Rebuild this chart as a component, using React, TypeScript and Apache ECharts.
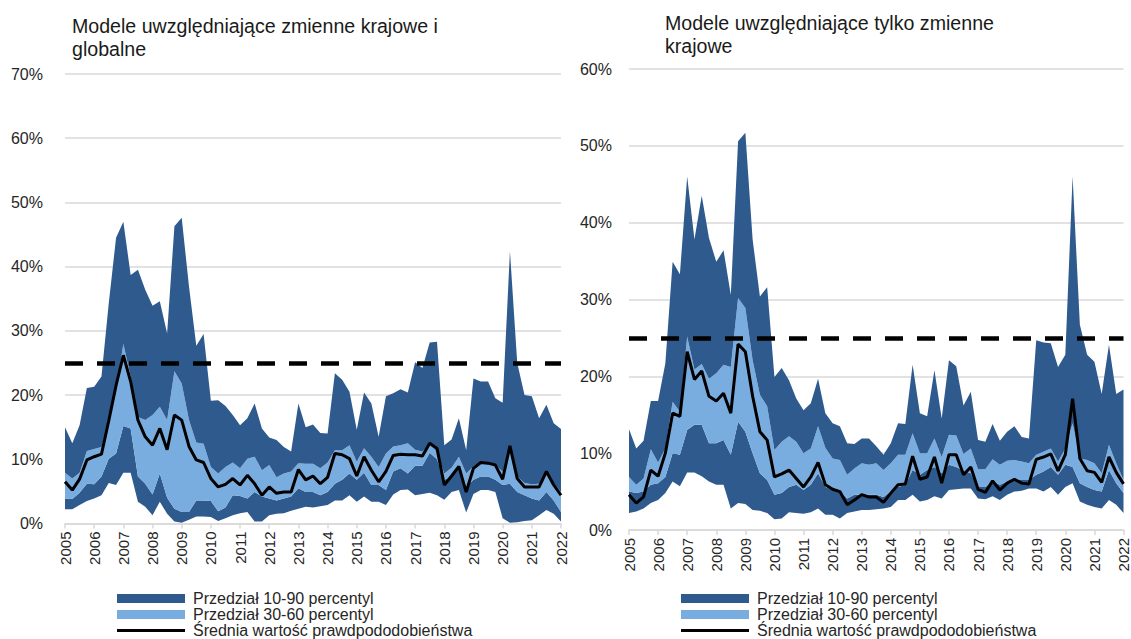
import React, { useEffect, useRef } from "react";
import * as echarts from "echarts";

// ---- data (quarterly, 2005Q1 – 2022Q1), values in % ----
const years = [2005, 2006, 2007, 2008, 2009, 2010, 2011, 2012, 2013, 2014, 2015, 2016, 2017, 2018, 2019, 2020, 2021, 2022];
const categories = years.flatMap((y) => ["Q1", "Q2", "Q3", "Q4"].map((q) => `${y} ${q}`)).slice(0, 69);

// Left panel: domestic and global variables
const leftP10 = [2.2, 2.2, 2.9, 3.5, 3.9, 4.4, 6.3, 6.0, 7.9, 7.9, 3.4, 2.6, 1.3, 3.4, 1.5, 0.3, 0.1, 0.6, 1.1, 1.1, 1.0, 0.4, 0.8, 1.3, 1.6, 1.8, 0.3, 0.3, 1.3, 1.5, 1.6, 2.0, 2.3, 2.6, 2.5, 2.7, 2.9, 3.6, 3.6, 4.4, 3.4, 4.2, 3.4, 3.4, 2.9, 4.5, 5.2, 5.3, 4.4, 4.6, 4.8, 4.4, 3.7, 4.9, 5.2, 1.7, 4.6, 5.2, 5.2, 4.9, 0.8, 0.1, 0.2, 0.4, 0.5, 1.3, 2.1, 1.5, 0.3];
const leftP30 = [3.9, 3.8, 4.8, 6.2, 6.1, 7.3, 10.1, 10.9, 15.2, 14.8, 7.3, 6.2, 4.5, 7.8, 4.0, 2.3, 1.8, 1.8, 3.6, 3.6, 3.5, 1.9, 2.5, 4.4, 4.3, 3.9, 4.9, 4.2, 3.9, 3.6, 3.9, 4.2, 5.5, 4.9, 4.9, 4.4, 4.9, 6.2, 6.8, 7.8, 6.8, 7.9, 6.0, 6.0, 5.2, 8.1, 8.6, 7.8, 9.0, 9.0, 11.0, 10.0, 6.8, 7.3, 8.8, 5.7, 6.8, 7.3, 7.3, 6.8, 6.0, 6.2, 4.9, 4.4, 3.9, 3.6, 4.9, 3.6, 1.8];
const leftP60 = [7.9, 7.0, 7.9, 11.3, 11.6, 11.9, 16.0, 20.5, 28.0, 22.9, 16.6, 16.1, 16.9, 18.2, 16.1, 23.7, 21.8, 16.1, 12.6, 12.4, 8.8, 7.8, 8.8, 9.5, 8.6, 10.1, 10.4, 8.3, 9.1, 7.2, 7.8, 8.1, 9.4, 9.3, 9.3, 8.6, 9.5, 11.4, 11.4, 12.2, 9.6, 11.7, 10.4, 8.8, 10.9, 12.0, 12.2, 12.5, 11.5, 11.2, 12.2, 11.2, 7.8, 8.7, 10.4, 7.8, 8.9, 9.6, 9.5, 9.1, 8.1, 11.0, 7.3, 6.3, 6.1, 6.2, 7.9, 6.3, 4.9];
const leftP90 = [15.0, 12.5, 15.3, 21.1, 21.3, 22.9, 34.3, 44.5, 47.0, 38.7, 39.5, 36.4, 33.9, 34.6, 29.6, 46.3, 47.6, 36.9, 27.7, 29.5, 19.1, 19.2, 18.3, 16.9, 15.3, 16.4, 18.7, 14.8, 13.4, 13.0, 11.9, 11.2, 18.7, 15.0, 15.4, 14.1, 14.0, 23.4, 22.4, 20.5, 14.6, 20.4, 18.7, 13.5, 19.8, 20.3, 20.9, 20.4, 25.1, 24.2, 28.2, 28.3, 12.2, 13.1, 16.4, 11.4, 22.6, 22.1, 22.1, 19.5, 18.8, 42.4, 25.0, 20.0, 19.8, 16.4, 18.5, 15.6, 14.7];
const leftMean = [6.5, 5.2, 6.9, 9.9, 10.4, 10.8, 16.0, 21.5, 26.2, 22.1, 16.1, 13.5, 12.2, 14.8, 11.5, 16.9, 16.1, 12.0, 9.9, 9.5, 7.0, 5.7, 6.1, 7.0, 6.0, 7.5, 6.2, 4.4, 5.7, 4.7, 4.9, 4.9, 8.4, 6.8, 7.4, 6.2, 7.2, 10.9, 10.7, 10.1, 7.4, 10.4, 8.3, 6.5, 8.1, 10.6, 10.8, 10.7, 10.7, 10.5, 12.5, 11.7, 6.0, 7.4, 8.9, 4.9, 8.6, 9.5, 9.4, 9.1, 6.9, 12.1, 7.0, 5.7, 5.7, 5.7, 8.1, 6.0, 4.4];

// Right panel: domestic variables only
const rightP10 = [2.2, 2.4, 2.8, 3.5, 3.9, 4.8, 6.3, 5.7, 7.5, 7.5, 7.0, 6.3, 5.9, 5.9, 2.8, 3.5, 3.4, 2.6, 2.5, 2.2, 1.4, 1.5, 2.3, 2.2, 2.1, 2.3, 2.8, 2.0, 2.0, 1.5, 2.2, 2.4, 2.6, 2.6, 2.7, 2.8, 3.0, 3.9, 3.9, 4.6, 3.7, 3.9, 4.4, 4.1, 5.2, 5.3, 5.4, 5.4, 4.1, 4.0, 4.4, 3.9, 4.6, 5.0, 5.1, 5.4, 5.4, 5.0, 5.6, 4.6, 5.6, 6.1, 3.7, 3.3, 3.0, 2.8, 3.9, 3.3, 2.2];
const rightP30 = [5.0, 4.8, 5.0, 5.9, 6.1, 6.9, 10.0, 9.8, 13.0, 13.7, 13.7, 11.3, 11.3, 11.7, 9.8, 14.1, 12.8, 10.0, 7.4, 6.5, 4.6, 4.8, 5.6, 5.9, 5.2, 5.9, 7.4, 5.6, 5.2, 5.0, 4.1, 4.6, 4.6, 4.6, 4.6, 4.3, 5.0, 5.6, 5.9, 7.8, 7.2, 7.8, 8.2, 7.4, 8.5, 8.2, 7.7, 7.4, 5.6, 5.6, 6.3, 5.9, 6.3, 6.5, 6.5, 6.5, 7.2, 7.6, 8.2, 7.2, 8.5, 8.2, 6.1, 5.6, 5.2, 5.0, 7.8, 6.1, 4.8];
const rightP60 = [6.9, 5.9, 6.7, 10.5, 8.8, 10.6, 16.7, 15.4, 25.2, 20.9, 21.6, 19.7, 20.4, 21.5, 21.2, 30.2, 28.9, 22.1, 17.6, 16.1, 10.4, 11.5, 12.2, 11.5, 10.0, 10.6, 13.5, 10.7, 9.3, 9.1, 7.2, 8.0, 8.7, 8.5, 8.7, 7.8, 8.7, 9.8, 9.8, 12.6, 10.0, 10.0, 11.9, 9.5, 12.4, 12.3, 9.9, 10.6, 7.9, 7.9, 9.2, 8.5, 9.0, 9.1, 8.9, 8.7, 9.8, 10.2, 10.6, 8.9, 10.6, 13.9, 9.3, 9.1, 8.7, 7.4, 11.1, 8.7, 6.5];
const rightP90 = [13.1, 10.6, 11.6, 16.8, 16.8, 21.7, 34.9, 33.3, 46.0, 37.8, 43.5, 38.0, 34.9, 36.4, 30.6, 50.6, 51.7, 37.8, 30.4, 31.6, 19.9, 21.1, 19.5, 17.1, 15.6, 16.5, 19.7, 15.2, 13.9, 13.5, 11.3, 11.2, 11.9, 11.9, 10.9, 9.8, 11.3, 13.9, 13.8, 21.5, 15.2, 14.8, 20.8, 14.5, 22.1, 21.3, 16.2, 18.0, 11.7, 11.5, 13.8, 11.6, 12.8, 13.5, 12.1, 11.9, 24.7, 24.4, 24.3, 21.2, 22.8, 46.0, 26.7, 22.8, 21.9, 17.7, 24.1, 17.7, 18.3];
const rightMean = [4.6, 3.5, 4.3, 7.8, 7.0, 10.0, 15.2, 14.8, 23.2, 19.6, 20.7, 17.4, 16.8, 17.8, 15.2, 24.2, 23.2, 17.4, 12.8, 11.7, 6.9, 7.3, 7.8, 6.7, 5.6, 6.9, 8.8, 5.9, 5.3, 5.0, 3.3, 3.9, 4.6, 4.3, 4.3, 3.6, 4.8, 5.9, 6.0, 9.6, 6.6, 6.9, 9.5, 6.1, 9.8, 9.8, 7.2, 8.2, 5.3, 4.9, 6.4, 5.2, 6.1, 6.6, 6.1, 6.0, 9.2, 9.5, 9.9, 7.7, 9.8, 17.1, 9.3, 7.7, 7.5, 6.2, 9.5, 7.5, 6.0];

const threshold = 25;
const titles = ["Modele uwzględniające zmienne krajowe i\nglobalne", "Modele uwzględniające tylko zmienne\nkrajowe"];
const legendNames = ["Przedział 10-90 percentyl", "Przedział 30-60 percentyl", "Średnia wartość prawdpododobieństwa"];

const DARK = "#2E5A8E";
const LIGHT = "#7AADDF";
const GRID = "#D9D9D9";
const TXT = "#262626";
const FONT = "'Liberation Sans', Arial, sans-serif";

const diff = (a: number[], b: number[]) => a.map((v, i) => Math.max(0, +(v - b[i]).toFixed(2)));

function bandSeries(idx: number, p10: number[], p30: number[], p60: number[], p90: number[], mean: number[]) {
  const stack = "s" + idx;
  const common = {
    type: "line",
    xAxisIndex: idx,
    yAxisIndex: idx,
    stack,
    symbol: "none",
    showSymbol: false,
    silent: true,
    lineStyle: { width: 0, opacity: 0 },
  };
  return [
    { ...common, name: "base" + idx, data: p10 },
    { ...common, name: legendNames[0] + " low " + idx, data: diff(p30, p10), areaStyle: { color: DARK, opacity: 1 } },
    { ...common, name: legendNames[1] + " " + idx, data: diff(p60, p30), areaStyle: { color: LIGHT, opacity: 1 } },
    { ...common, name: legendNames[0] + " " + idx, data: diff(p90, p60), areaStyle: { color: DARK, opacity: 1 } },
    {
      type: "line",
      name: legendNames[2] + " " + idx,
      xAxisIndex: idx,
      yAxisIndex: idx,
      data: mean,
      symbol: "none",
      showSymbol: false,
      silent: true,
      lineStyle: { color: "#000", width: 3 },
      z: 5,
      markLine: {
        silent: true,
        symbol: "none",
        label: { show: false },
        lineStyle: { color: "#000", width: 4.5, type: [18, 14] },
        data: [{ yAxis: threshold }],
      },
    },
  ];
}

function xAxis(idx: number) {
  return {
    type: "category",
    gridIndex: idx,
    data: categories,
    boundaryGap: false,
    axisLine: { lineStyle: { color: GRID, width: 1.5 } },
    axisTick: { show: true, interval: 3, length: 5, lineStyle: { color: GRID, width: 1.5 } },
    axisLabel: {
      interval: 3,
      rotate: 90,
      margin: 8,
      fontSize: 15,
      color: TXT,
      fontFamily: FONT,
      formatter: (v: string) => v.slice(0, 4),
    },
    splitLine: { show: false },
  };
}

function yAxis(idx: number, max: number, margin: number) {
  return {
    type: "value",
    gridIndex: idx,
    min: 0,
    max,
    interval: 10,
    axisLine: { show: false },
    axisTick: { show: false },
    axisLabel: { formatter: "{value}%", fontSize: 16, color: TXT, fontFamily: FONT, margin },
    splitLine: { lineStyle: { color: GRID, width: 1.5 } },
  };
}

function legendGraphic(x0: number) {
  return [
    { type: "rect", shape: { x: x0, y: 594, width: 68, height: 9 }, style: { fill: DARK } },
    { type: "rect", shape: { x: x0, y: 610, width: 68, height: 9 }, style: { fill: LIGHT } },
    { type: "line", shape: { x1: x0, y1: 630.5, x2: x0 + 68, y2: 630.5 }, style: { stroke: "#000", lineWidth: 3 } },
    ...legendNames.map((t, i) => ({
      type: "text",
      x: x0 + 76,
      y: 598.5 + i * 16,
      style: { text: t, fontSize: 16, fontFamily: FONT, fill: TXT, verticalAlign: "middle", align: "left" },
    })),
  ];
}

export default function App() {
  const ref = useRef<HTMLDivElement>(null);
  useEffect(() => {
    if (!ref.current) return;
    const chart = echarts.init(ref.current, undefined, { renderer: "svg" });
    chart.setOption({
      animation: false,
      backgroundColor: "#fff",
      title: [
        {
          text: titles[0],
          left: 67,
          top: 9,
          textStyle: { fontSize: 19.6, fontWeight: "normal", color: "#1a1a1a", fontFamily: FONT, lineHeight: 23.5 },
        },
        {
          text: titles[1],
          left: 660,
          top: 6,
          textStyle: { fontSize: 19.6, fontWeight: "normal", color: "#1a1a1a", fontFamily: FONT, lineHeight: 23.5 },
        },
      ],
      grid: [
        { left: 65, top: 74, width: 496, height: 449.5, containLabel: false },
        { left: 629, top: 69, width: 495, height: 461, containLabel: false },
      ],
      xAxis: [xAxis(0), xAxis(1)],
      yAxis: [yAxis(0, 70, 22), yAxis(1, 60, 17)],
      series: [
        ...bandSeries(0, leftP10, leftP30, leftP60, leftP90, leftMean),
        ...bandSeries(1, rightP10, rightP30, rightP60, rightP90, rightMean),
      ],
      graphic: [...legendGraphic(117), ...legendGraphic(681)],
    });
    return () => chart.dispose();
  }, []);
  return <div ref={ref} style={{ position: "absolute", left: 0, top: 0, width: 1131, height: 639 }} />;
}
